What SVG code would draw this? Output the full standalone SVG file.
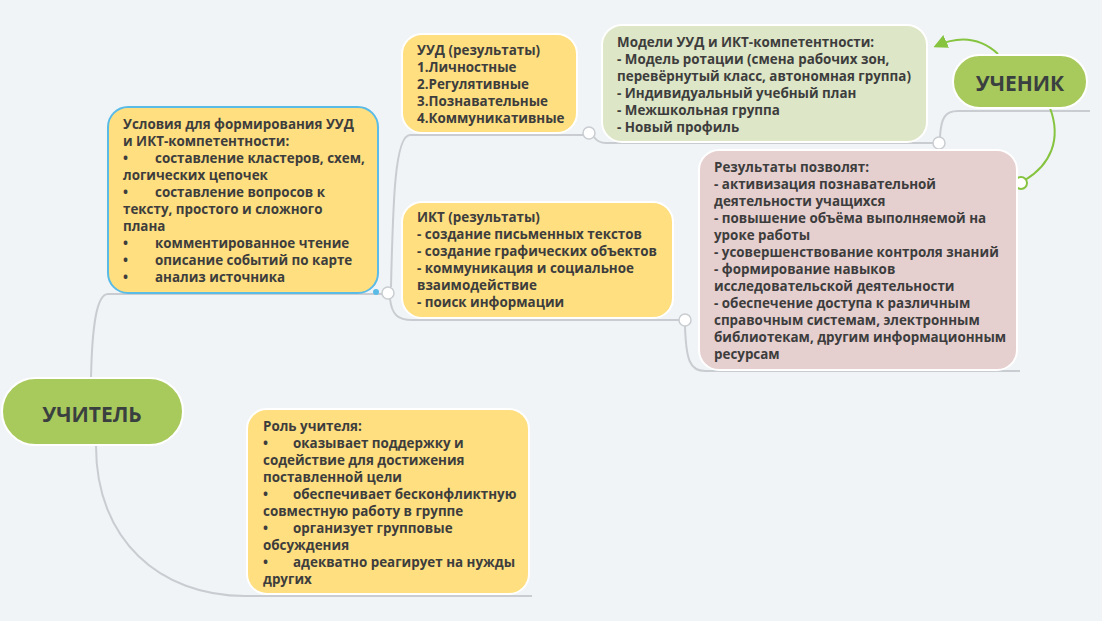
<svg xmlns="http://www.w3.org/2000/svg" width="1102" height="621" viewBox="0 0 1102 621">
<defs>
<style>
.bg{fill:#f0f4f7}
.t{font-family:"Open Sans","Noto Sans","DejaVu Sans",sans-serif;font-weight:700;font-size:13.4px;fill:#3d3d3d}
.title{font-family:"Open Sans","Noto Sans","DejaVu Sans",sans-serif;font-weight:700;font-size:21px;fill:#3a4040;text-anchor:middle}
.root{fill:#a8c95c;stroke:#ffffff;stroke-width:2}
.yel{fill:#ffdf80;stroke:#ffffff;stroke-width:2}
.sel{fill:#ffdf80;stroke:#5bbbe7;stroke-width:2}
.grn{fill:#dde6c6;stroke:#ffffff;stroke-width:2}
.pnk{fill:#e6cfcf;stroke:#ffffff;stroke-width:2}
.ln{fill:none;stroke:#c9cdd1;stroke-width:2}
.gl{fill:none;stroke:#86c440;stroke-width:2}
.h{fill:#ffffff;stroke:#c9cdd1;stroke-width:1.5}
.hg{fill:#ffffff;stroke:#86c440;stroke-width:2}
</style>
<marker id="ah" viewBox="0 0 10 10" refX="8" refY="5" markerWidth="7" markerHeight="7" orient="auto" markerUnits="strokeWidth">
<path d="M0,0 L10,5 L0,10 z" fill="#86c440"/>
</marker>
</defs>
<rect class="bg" x="0" y="0" width="1102" height="621"/>

<g id="connectors">
<path class="ln" d="M91,378 C92,330 96,294 108,294 L384,294"/>
<path class="ln" d="M391,287 C393,200 395,135 410,135 L583,135"/>
<path class="ln" d="M390,299 C392,315 398,320 412,320 L679,320"/>
<path class="ln" d="M594,137 Q598,143 606,143 L933,143"/>
<path class="ln" d="M940,137 C941,118 945,111 958,111 L1090,111"/>
<path class="ln" d="M685,326 C686,360 690,371 705,371 L1020,371"/>
<path class="ln" d="M96,446 C96,540 160,596 245,596 L532,596"/>
<path class="gl" d="M998,54 Q972,30 936,46" marker-end="url(#ah)"/>
<path class="gl" d="M1050,108 C1062,140 1050,165 1025,180"/>
<circle class="h" cx="388" cy="293" r="6"/>
<circle class="h" cx="589" cy="133" r="6"/>
<circle class="h" cx="939" cy="143" r="6"/>
<circle class="h" cx="685" cy="320" r="6"/>
<circle class="hg" cx="1021" cy="183" r="6"/>
</g>

<g id="uchitel">
<rect class="root" x="2" y="378" width="181" height="67" rx="33.5"/>
<text class="title" x="92" y="422">УЧИТЕЛЬ</text>
</g>

<g id="uchenik">
<rect class="root" x="953" y="55" width="134" height="53" rx="26.5"/>
<text class="title" x="1020" y="91">УЧЕНИК</text>
</g>

<g id="usloviya">
<rect class="sel" x="108" y="107" width="270" height="186" rx="20"/>
<circle cx="376" cy="292" r="3" fill="#5bbbe7"/>
<text class="t">
<tspan x="123" y="129">Условия для формирования УУД</tspan>
<tspan x="123" y="146">и ИКТ-компетентности:</tspan>
<tspan x="123" y="163">•</tspan><tspan x="155" y="163">составление кластеров, схем,</tspan>
<tspan x="123" y="180">логических цепочек</tspan>
<tspan x="123" y="197">•</tspan><tspan x="155" y="197">составление вопросов к</tspan>
<tspan x="123" y="214">тексту, простого и сложного</tspan>
<tspan x="123" y="231">плана</tspan>
<tspan x="123" y="248">•</tspan><tspan x="155" y="248">комментированное чтение</tspan>
<tspan x="123" y="265">•</tspan><tspan x="155" y="265">описание событий по карте</tspan>
<tspan x="123" y="282">•</tspan><tspan x="155" y="282">анализ источника</tspan>
</text>
</g>

<g id="uud">
<rect class="yel" x="402" y="34" width="175" height="99" rx="20"/>
<text class="t">
<tspan x="417" y="55">УУД (результаты)</tspan>
<tspan x="417" y="72">1.Личностные</tspan>
<tspan x="417" y="89">2.Регулятивные</tspan>
<tspan x="417" y="106">3.Познавательные</tspan>
<tspan x="417" y="123">4.Коммуникативные</tspan>
</text>
</g>

<g id="modeli">
<rect class="grn" x="602" y="25" width="325" height="117" rx="20"/>
<text class="t">
<tspan x="617" y="47">Модели УУД и ИКТ-компетентности:</tspan>
<tspan x="617" y="64">- Модель ротации (смена рабочих зон,</tspan>
<tspan x="617" y="81">перевёрнутый класс, автономная группа)</tspan>
<tspan x="617" y="98">- Индивидуальный учебный план</tspan>
<tspan x="617" y="115">- Межшкольная группа</tspan>
<tspan x="617" y="132">- Новый профиль</tspan>
</text>
</g>

<g id="ikt">
<rect class="yel" x="402" y="202" width="271" height="116" rx="20"/>
<text class="t">
<tspan x="417" y="222">ИКТ (результаты)</tspan>
<tspan x="417" y="239">- создание письменных текстов</tspan>
<tspan x="417" y="256">- создание графических объектов</tspan>
<tspan x="417" y="273">- коммуникация и социальное</tspan>
<tspan x="417" y="290">взаимодействие</tspan>
<tspan x="417" y="307">- поиск информации</tspan>
</text>
</g>

<g id="rezultaty">
<rect class="pnk" x="699" y="150" width="318" height="220" rx="20"/>
<text class="t">
<tspan x="714" y="172">Результаты позволят:</tspan>
<tspan x="714" y="189">- активизация познавательной</tspan>
<tspan x="714" y="206">деятельности учащихся</tspan>
<tspan x="714" y="223">- повышение объёма выполняемой на</tspan>
<tspan x="714" y="240">уроке работы</tspan>
<tspan x="714" y="257">- усовершенствование контроля знаний</tspan>
<tspan x="714" y="274">- формирование навыков</tspan>
<tspan x="714" y="291">исследовательской деятельности</tspan>
<tspan x="714" y="308">- обеспечение доступа к различным</tspan>
<tspan x="714" y="325">справочным системам, электронным</tspan>
<tspan x="714" y="342">библиотекам, другим информационным</tspan>
<tspan x="714" y="359">ресурсам</tspan>
</text>
</g>

<g id="rol">
<rect class="yel" x="247" y="409" width="282" height="185" rx="20"/>
<text class="t">
<tspan x="263" y="431">Роль учителя:</tspan>
<tspan x="263" y="448">•</tspan><tspan x="293" y="448">оказывает поддержку и</tspan>
<tspan x="263" y="465">содействие для достижения</tspan>
<tspan x="263" y="482">поставленной цели</tspan>
<tspan x="263" y="499">•</tspan><tspan x="293" y="499">обеспечивает бесконфликтную</tspan>
<tspan x="263" y="516">совместную работу в группе</tspan>
<tspan x="263" y="533">•</tspan><tspan x="293" y="533">организует групповые</tspan>
<tspan x="263" y="550">обсуждения</tspan>
<tspan x="263" y="567">•</tspan><tspan x="293" y="567">адекватно реагирует на нужды</tspan>
<tspan x="263" y="584">других</tspan>
</text>
</g>
</svg>
